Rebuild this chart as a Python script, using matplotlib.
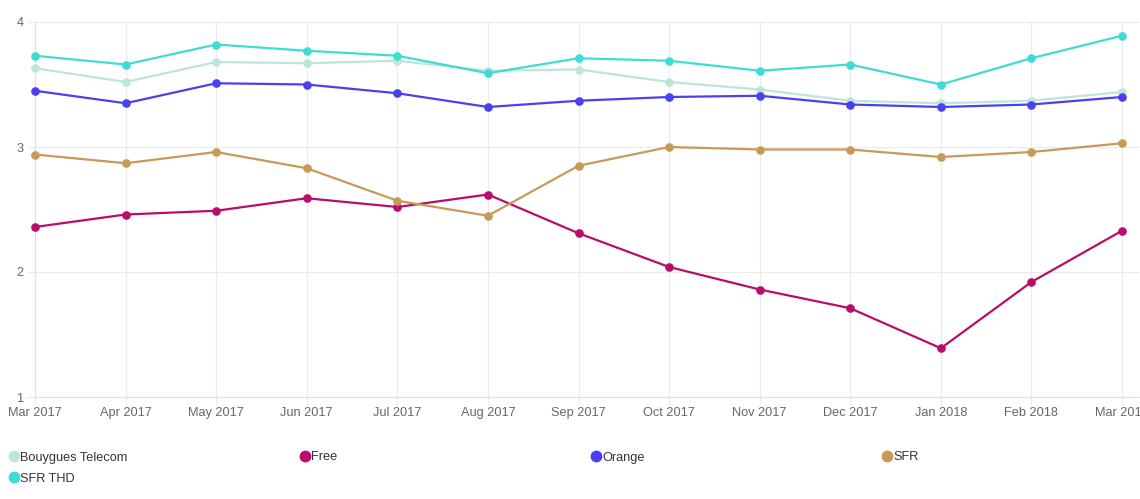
import matplotlib
matplotlib.use('agg')
import matplotlib.pyplot as plt
from matplotlib.lines import Line2D

months = ['Mar 2017', 'Apr 2017', 'May 2017', 'Jun 2017', 'Jul 2017', 'Aug 2017',
          'Sep 2017', 'Oct 2017', 'Nov 2017', 'Dec 2017', 'Jan 2018', 'Feb 2018', 'Mar 2018']

bouygues = [3.63, 3.52, 3.68, 3.67, 3.69, 3.61, 3.62, 3.52, 3.46, 3.37, 3.35, 3.37, 3.44]
free = [2.36, 2.46, 2.49, 2.59, 2.52, 2.62, 2.31, 2.04, 1.86, 1.71, 1.39, 1.92, 2.33]
orange = [3.45, 3.35, 3.51, 3.50, 3.43, 3.32, 3.37, 3.40, 3.41, 3.34, 3.32, 3.34, 3.40]
sfr = [2.94, 2.87, 2.96, 2.83, 2.57, 2.45, 2.85, 3.00, 2.98, 2.98, 2.92, 2.96, 3.03]
sfr_thd = [3.73, 3.66, 3.82, 3.77, 3.73, 3.59, 3.71, 3.69, 3.61, 3.66, 3.50, 3.71, 3.89]

names = ['Bouygues Telecom', 'Free', 'Orange', 'SFR', 'SFR THD']
series = [bouygues, free, orange, sfr, sfr_thd]
colors = ['#bde5d9', '#b80d6c', '#4a40f2', '#c9995a', '#3fdbd6']

plt.rcParams['font.family'] = ['Liberation Sans', 'DejaVu Sans']

fig = plt.figure(figsize=(11.4, 4.99), dpi=100)
ax = fig.add_axes([35 / 1140, 1 - 397 / 499, 1104 / 1140, 375 / 499])

x = list(range(len(months)))
for vals, c in zip(series, colors):
    ax.plot(x, vals, color=c, lw=1.6, marker='o', ms=5.2, zorder=3, clip_on=False)

ax.set_ylim(1, 4)
ax.set_xlim(0, 12 + 17 / 90.6)
ax.set_yticks([1, 2, 3, 4])
ax.set_xticks(x)
ax.set_xticklabels(months)
ax.grid(True, color='#ebebeb', lw=0.8)
ax.set_axisbelow(True)
for s in ['top', 'right']:
    ax.spines[s].set_visible(False)
for s in ['left', 'bottom']:
    ax.spines[s].set_color('#e0e0e0')
    ax.spines[s].set_linewidth(0.8)
ax.tick_params(colors='#666666', labelsize=9.2, length=6, width=0.8)
ax.tick_params(axis='x', colors='#ebebeb', labelcolor='#666666', pad=1)
ax.tick_params(axis='y', colors='#ebebeb', labelcolor='#666666', pad=2)

# legend, four equal-width columns
for i, (name, c) in enumerate(zip(names, colors)):
    col, row = i % 4, i // 4
    mx = (14 + col * 291) / 1140
    my = 1 - (456 + row * 21) / 499
    fig.add_artist(Line2D([mx], [my], marker='o', ms=7.5, color=c, lw=0,
                          transform=fig.transFigure))
    fig.text(mx + 6 / 1140, my, name, fontsize=9.2, color='#333333',
             va='center_baseline', ha='left')

fig.savefig('out.png', dpi=100)
